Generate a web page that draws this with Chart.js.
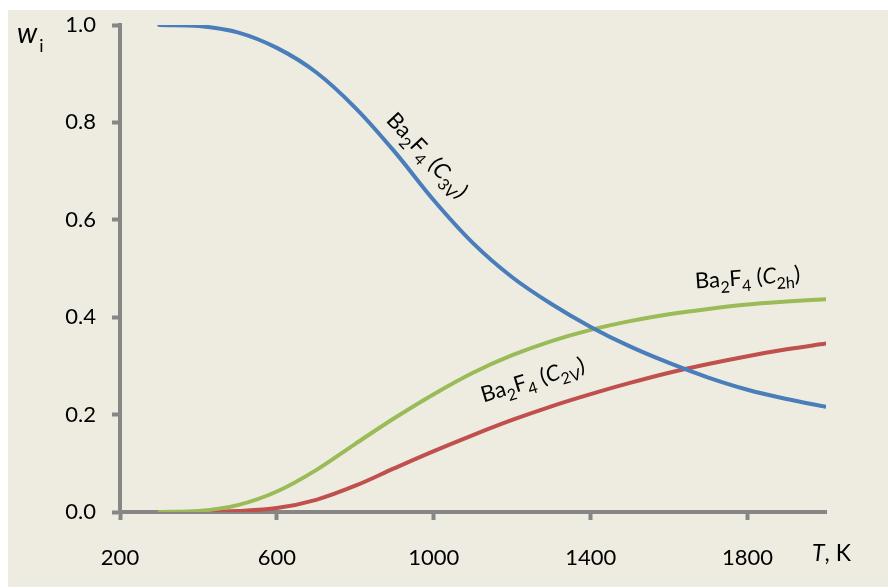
<!DOCTYPE html>
<html>
<head>
<meta charset="utf-8">
<script src="https://cdn.jsdelivr.net/npm/chart.js@4.4.1/dist/chart.umd.min.js"></script>
<style>
  html, body { margin: 0; padding: 0; background: #ffffff; }
  #wrap { width: 888px; height: 588px; }
</style>
</head>
<body>
<div id="wrap"><canvas id="c" width="888" height="588"></canvas></div>
<script>
// Temperature grid, K
const temperatures = [300, 400, 500, 600, 700, 800, 900, 1000, 1100, 1200, 1300, 1400, 1500, 1600, 1700, 1800, 1900, 2000];

// Mole fractions of the Ba2F4 isomers
const wC3v = [1.000, 0.998, 0.985, 0.953, 0.903, 0.830, 0.740, 0.640, 0.552, 0.482, 0.427, 0.380, 0.340, 0.306, 0.276, 0.251, 0.232, 0.216];
const wC2h = [0.000, 0.002, 0.014, 0.042, 0.086, 0.140, 0.193, 0.242, 0.286, 0.322, 0.351, 0.374, 0.392, 0.406, 0.417, 0.426, 0.432, 0.437];
const wC2v = [0.000, 0.000, 0.002, 0.008, 0.025, 0.054, 0.090, 0.125, 0.158, 0.189, 0.217, 0.242, 0.265, 0.286, 0.304, 0.320, 0.334, 0.346];

// Axis ticks
const xTicks = [200, 600, 1000, 1400, 1800];
const yTicks = [0, 0.2, 0.4, 0.6, 0.8, 1.0];

// Curve captions: chemical formula pieces, anchor (T, w) and rotation in degrees
const captions = [
  { parts: [['Ba'], ['2', 'sub'], ['F'], ['4', 'sub'], [' ('], ['C', 'it'], ['3V', 'sub'], [')']], T: 984, w: 0.733, angle: 47 },
  { parts: [['Ba'], ['2', 'sub'], ['F'], ['4', 'sub'], [' ('], ['C', 'it'], ['2h', 'sub'], [')']], T: 1800, w: 0.482, angle: -4 },
  { parts: [['Ba'], ['2', 'sub'], ['F'], ['4', 'sub'], [' ('], ['C', 'it'], ['2V', 'sub'], [')']], T: 1252, w: 0.272, angle: -17 }
];

const FONT = 'Lato, "Open Sans", "Liberation Sans", sans-serif';
const AXIS_GRAY = '#868686';

function pts(values) {
  return temperatures.map((t, i) => ({ x: t, y: values[i] }));
}

function partFont(kind, size) {
  if (kind === 'sub') return `${Math.round(size * 0.72)}px ${FONT}`;
  if (kind === 'it') return `italic ${size}px ${FONT}`;
  return `${size}px ${FONT}`;
}

function drawRich(ctx, parts, size) {
  let total = 0;
  const widths = parts.map(p => {
    ctx.font = partFont(p[1], size);
    const w = ctx.measureText(p[0]).width;
    total += w;
    return w;
  });
  let x = -total / 2;
  parts.forEach((p, i) => {
    ctx.font = partFont(p[1], size);
    const dy = p[1] === 'sub' ? size * 0.28 : 0;
    ctx.fillText(p[0], x, size * 0.35 + dy);
    x += widths[i];
  });
}

const decor = {
  id: 'decor',
  beforeDraw(chart) {
    const ctx = chart.ctx;
    ctx.save();
    ctx.fillStyle = '#EEECE1';
    ctx.fillRect(8, 10, chart.width - 8, chart.height - 11);
    ctx.restore();
  },
  afterDraw(chart) {
    const ctx = chart.ctx;
    const xs = chart.scales.x, ys = chart.scales.y;
    ctx.save();
    ctx.fillStyle = '#000000';
    ctx.textAlign = 'left';
    ctx.textBaseline = 'alphabetic';

    // y-axis title: w with subscript i
    ctx.font = `italic 28px ${FONT}`;
    ctx.fillText('w', 17, 43);
    const ww = ctx.measureText('w').width;
    ctx.font = `18px ${FONT}`;
    ctx.fillText('i', 17 + ww + 2, 52);

    // x-axis title: T, K
    ctx.font = `italic 23px ${FONT}`;
    ctx.fillText('T', 812, 561);
    const tw = ctx.measureText('T').width;
    ctx.font = `23px ${FONT}`;
    ctx.fillText(', K', 812 + tw, 561);

    // curve captions
    captions.forEach(c => {
      ctx.save();
      ctx.translate(xs.getPixelForValue(c.T), ys.getPixelForValue(c.w));
      ctx.rotate(c.angle * Math.PI / 180);
      drawRich(ctx, c.parts, 22);
      ctx.restore();
    });
    ctx.restore();
  }
};

const lineStyle = {
  borderWidth: 4,
  pointRadius: 0,
  fill: false,
  tension: 0.35,
  borderCapStyle: 'round'
};

new Chart(document.getElementById('c'), {
  type: 'line',
  data: {
    datasets: [
      Object.assign({ label: 'Ba2F4 (C3v)', data: pts(wC3v), borderColor: '#4A7EBB' }, lineStyle),
      Object.assign({ label: 'Ba2F4 (C2h)', data: pts(wC2h), borderColor: '#9BBB59' }, lineStyle),
      Object.assign({ label: 'Ba2F4 (C2v)', data: pts(wC2v), borderColor: '#C0504D' }, lineStyle)
    ]
  },
  options: {
    responsive: false,
    animation: false,
    events: [],
    layout: { padding: { left: 0, right: 62, top: 25, bottom: 0 } },
    plugins: {
      legend: { display: false },
      tooltip: { enabled: false }
    },
    scales: {
      x: {
        type: 'linear',
        min: 200,
        max: 2000,
        afterBuildTicks(scale) { scale.ticks = xTicks.map(v => ({ value: v })); },
        afterFit(scale) {
          scale.height = 76;
          scale.paddingLeft = 0;
          scale.paddingRight = 0;
        },
        border: { display: true, color: AXIS_GRAY, width: 4 },
        grid: { display: true, drawOnChartArea: false, drawTicks: true, tickLength: 8, tickWidth: 4, tickColor: AXIS_GRAY },
        ticks: {
          color: '#000000',
          font: { family: FONT, size: 22 },
          padding: 25,
          maxRotation: 0,
          callback: v => String(v)
        }
      },
      y: {
        type: 'linear',
        min: 0,
        max: 1,
        afterBuildTicks(scale) { scale.ticks = yTicks.map(v => ({ value: v })); },
        afterFit(scale) {
          scale.width = 120;
          scale.paddingTop = 0;
          scale.paddingBottom = 0;
        },
        border: { display: true, color: AXIS_GRAY, width: 4 },
        grid: { display: true, drawOnChartArea: false, drawTicks: true, tickLength: 8, tickWidth: 4, tickColor: AXIS_GRAY },
        ticks: {
          color: '#000000',
          font: { family: FONT, size: 22 },
          padding: 16,
          callback: v => Number(v).toFixed(1)
        }
      }
    }
  },
  plugins: [decor]
});
</script>
</body>
</html>
